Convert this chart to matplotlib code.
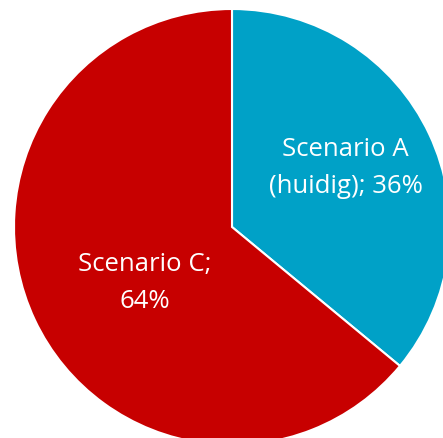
import numpy as np
import matplotlib.pyplot as plt

labels = ["Scenario A\n(huidig); 36%", "Scenario C;\n64%"]
shares = [36, 64]
colors = ["#00A1C7", "#C70000"]
label_dist = [0.59, 0.472]
label_turn = [2.6, 7.1]   # degrees, nudge off the slice's middle

W, H = 443, 439
fig = plt.figure(figsize=(W / 100, H / 100), dpi=100)
ax = fig.add_axes([0, 0, 1, 1])

cx, cy, r = 232, H - 228, 218
wedges, texts = ax.pie(shares, colors=colors, startangle=90, counterclock=False,
                       center=(cx, cy), radius=r, labels=labels, labeldistance=0.5,
                       wedgeprops=dict(edgecolor="white", linewidth=1.5),
                       textprops=dict(color="white", fontsize=18.5, family="Open Sans",
                                      ha="center", va="center", linespacing=1.62))

# put labels where they sit in the original
for w, t, d, turn in zip(wedges, texts, label_dist, label_turn):
    ang = np.deg2rad((w.theta1 + w.theta2) / 2 + turn)
    t.set_position((cx + d * r * np.cos(ang), cy + d * r * np.sin(ang)))
    t.set_ha("center")

ax.set_xlim(0, W)
ax.set_ylim(0, H)
ax.set_aspect("equal")
ax.axis("off")

fig.savefig("out.png", dpi=100, facecolor="white")
